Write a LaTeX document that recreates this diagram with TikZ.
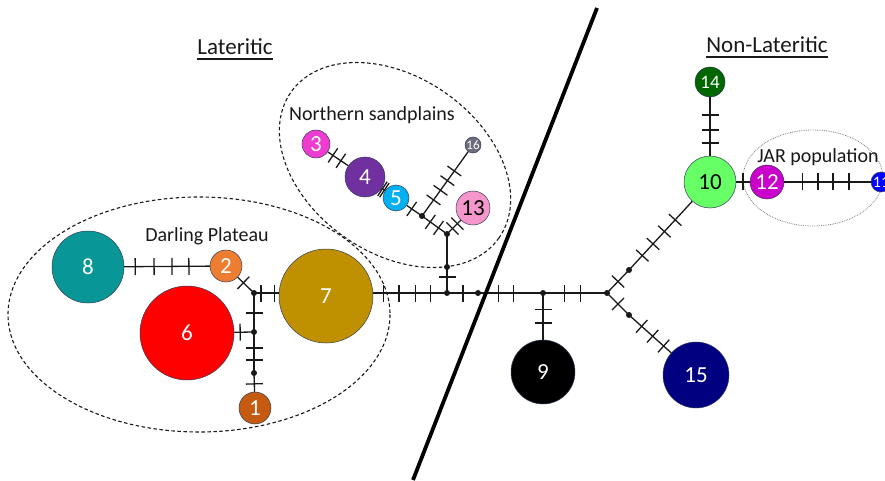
\documentclass[tikz,border=0pt]{standalone}
\usepackage{fontspec}
\setmainfont{Carlito}
\definecolor{c8}{RGB}{8,150,150}
\definecolor{c2}{RGB}{237,125,49}
\definecolor{c6}{RGB}{255,0,0}
\definecolor{c1}{RGB}{197,90,17}
\definecolor{c7}{RGB}{191,144,0}
\definecolor{c3}{RGB}{238,59,208}
\definecolor{c4}{RGB}{112,48,160}
\definecolor{c5}{RGB}{0,176,240}
\definecolor{c16}{RGB}{108,108,124}
\definecolor{c13}{RGB}{245,150,205}
\definecolor{c9}{RGB}{0,0,0}
\definecolor{c15}{RGB}{0,0,128}
\definecolor{c10}{RGB}{102,255,102}
\definecolor{c14}{RGB}{0,102,0}
\definecolor{c12}{RGB}{204,0,204}
\definecolor{c11}{RGB}{0,0,255}
\definecolor{rim}{RGB}{50,62,88}
\definecolor{ink}{RGB}{25,25,25}
\newcommand\tkbar{\rule[-8.5pt]{1.3pt}{17pt}}
\begin{document}
\begin{tikzpicture}[x=1pt,y=-1pt,
  hap/.style={circle, inner sep=0pt, draw=rim, line width=0.5pt,
    font=\fontsize{23}{23}\selectfont, text=white},
  net/.style={line width=1.3pt, draw=ink},
  tk/.style={sloped, inner sep=0pt, outer sep=0pt, text=ink},
  dot/.style={fill=ink},
  grp/.style={draw=ink, line width=1.1pt, dash pattern=on 3.5pt off 2.5pt},
  lbl/.style={anchor=base, inner sep=0pt, font=\fontsize{20}{20}\selectfont, text=ink},
  ttl/.style={anchor=base, inner sep=0pt, font=\fontsize{23}{23}\selectfont, text=ink}]
\useasboundingbox (0,0) rectangle (885,481);
\fill[white] (0,0) rectangle (885,481);
\clip (0,0) rectangle (885,481);

% group outlines
\draw[grp] (199,314.5) ellipse [x radius=191, y radius=117.5];
\draw[grp, rotate around={-35:(395,165)}] (395,165) ellipse [x radius=127, y radius=88];
\draw[gray, line width=0.8pt, densely dotted] (813,178) ellipse [x radius=70, y radius=48];

% haplotypes
\node[hap, fill=c8, minimum size=72] (n8) at (88,267) {8};
\node[hap, fill=c2, minimum size=32] (n2) at (226,266) {2};
\node[hap, fill=c6, minimum size=94] (n6) at (187,333) {6};
\node[hap, fill=c1, minimum size=32] (n1) at (255,408) {1};
\node[hap, fill=c7, minimum size=94] (n7) at (326,296) {7};
\node[hap, fill=c3, minimum size=28] (n3) at (316,144) {3};
\node[hap, fill=c4, minimum size=40] (n4) at (365,177) {4};
\node[hap, fill=c5, minimum size=26] (n5) at (396,198) {5};
\node[hap, fill=c16, minimum size=16, font=\fontsize{13}{13}\selectfont] (n16) at (473,145) {16};
\node[hap, fill=c13, minimum size=34, text=black] (n13) at (473,208) {13};
\node[hap, fill=c9, minimum size=64] (n9) at (543,372) {9};
\node[hap, fill=c15, minimum size=66] (n15) at (696,375) {15};
\node[hap, fill=c10, minimum size=52, text=black] (n10) at (710,182) {10};
\node[hap, fill=c14, minimum size=30, font=\fontsize{19}{19}\selectfont] (n14) at (710,82) {14};
\node[hap, fill=c12, minimum size=34] (n12) at (767,182) {12};
\node[hap, fill=c11, minimum size=20, font=\fontsize{16}{16}\selectfont] (n11) at (881,182) {11};

% median vectors
\coordinate (j1) at (254,293);
\coordinate (j2) at (254,332);
\coordinate (j3) at (254,373);
\coordinate (jm) at (447,293);
\coordinate (ja) at (478,293);
\coordinate (jb) at (543,293);
\coordinate (jc) at (607,293);
\coordinate (jd) at (629,270);
\coordinate (je) at (629,315);
\coordinate (k1) at (422,216);
\coordinate (k2) at (447,234);
\coordinate (k3) at (447,267);

% Darling Plateau links
\draw[net] (n8) -- node[tk,pos=.128]{\tkbar} node[tk,pos=.349]{\tkbar} node[tk,pos=.558]{\tkbar} node[tk,pos=.756]{\tkbar} (n2);
\draw[net] (n2) -- node[tk,pos=.35]{\tkbar} (j1);
\draw[net] (j1) -- node[tk,pos=.28]{\tkbar} node[tk,pos=.84]{\tkbar} (n7.west |- j1);
\draw[net] (j1) -- node[tk,pos=.51]{\tkbar} (j2);
\draw[net] (j2) -- node[tk,pos=.7]{\tkbar} (n6);
\draw[net] (j2) -- node[tk,pos=.39]{\tkbar} node[tk,pos=.68]{\tkbar} (j3);
\draw[net] (j3) -- node[tk,pos=.58]{\tkbar} (n1);

% backbone
\draw[net] (n7.east |- jm) -- node[tk,pos=.135]{\tkbar} node[tk,pos=.35]{\tkbar} node[tk,pos=.57]{\tkbar} node[tk,pos=.78]{\tkbar} (jm);
\draw[net] (jm) -- node[tk,pos=.52]{\tkbar} (ja);
\draw[net] (ja) -- node[tk,pos=.31]{\tkbar} node[tk,pos=.55]{\tkbar} (jb);
\draw[net] (jb) -- node[tk,pos=.34]{\tkbar} node[tk,pos=.59]{\tkbar} (jc);
\draw[net] (jb) -- node[tk,pos=.36]{\tkbar} node[tk,pos=.64]{\tkbar} (n9);
\draw[net] (jc) -- node[tk,pos=.5]{\tkbar} (jd);
\draw[net] (jd) -- node[tk,pos=.21]{\tkbar} node[tk,pos=.38]{\tkbar} node[tk,pos=.56]{\tkbar} node[tk,pos=.73]{\tkbar} (n10);
\draw[net] (jc) -- node[tk,pos=.5]{\tkbar} (je);
\draw[net] (je) -- node[tk,pos=.3]{\tkbar} node[tk,pos=.56]{\tkbar} node[tk,pos=.82]{\tkbar} (n15);

% non-lateritic links
\draw[net] (n14) -- node[tk,pos=.305]{\tkbar} node[tk,pos=.56]{\tkbar} node[tk,pos=.78]{\tkbar} (n10);
\draw[net] (n10) -- node[tk,pos=.5]{\tkbar} (n12);
\draw[net] (n12) -- node[tk,pos=.207]{\tkbar} node[tk,pos=.39]{\tkbar} node[tk,pos=.563]{\tkbar} node[tk,pos=.747]{\tkbar} (n11);

% northern sandplains links
\draw[net] (n3) -- node[tk,pos=.25]{\tkbar} node[tk,pos=.64]{\tkbar} (n4);
\draw[net] (n4) -- node[tk,pos=.2]{\tkbar} node[tk,pos=.8]{\tkbar} (n5);
\draw[net] (n5) -- node[tk,pos=.32]{\tkbar} (k1);
\draw[net] (k1) -- node[tk,pos=.33]{\tkbar} node[tk,pos=.66]{\tkbar} (k2);
\draw[net] (k1) -- node[tk,pos=.25]{\tkbar} node[tk,pos=.4]{\tkbar} node[tk,pos=.55]{\tkbar} node[tk,pos=.7]{\tkbar} (n16);
\draw[net] (k2) -- node[tk,pos=.4]{\tkbar} node[tk,pos=.75]{\tkbar} (n13);
\draw[net] (k2) -- (k3);
\draw[net] (k3) -- node[tk,pos=.38]{\tkbar} (jm);

\foreach \j in {j1,j2,j3,jm,ja,jb,jc,jd,je,k1,k2,k3}
  \fill[dot] (\j) circle [radius=3];

% lateritic / non-lateritic divide
\coordinate (dtop) at (597,8);
\coordinate (dbot) at (413,480);
\draw[line width=3.8pt, black] (dtop) -- (dbot);

% labels
\node[ttl] (lat) at (235,55) {Lateritic};
\draw[ink, line width=1.4pt] ([yshift=-4pt]lat.base west) -- ([yshift=-4pt]lat.base east);
\node[ttl] (nonlat) at (767,53) {Non-Lateritic};
\draw[ink, line width=1.4pt] ([yshift=-4pt]nonlat.base west) -- ([yshift=-4pt]nonlat.base east);
\node[lbl] (dp) at (207,241) {Darling Plateau};
\node[lbl] (ns) at (372,121) {Northern sandplains};
\node[lbl] (jar) at (818,163) {JAR population};
\end{tikzpicture}
\end{document}
